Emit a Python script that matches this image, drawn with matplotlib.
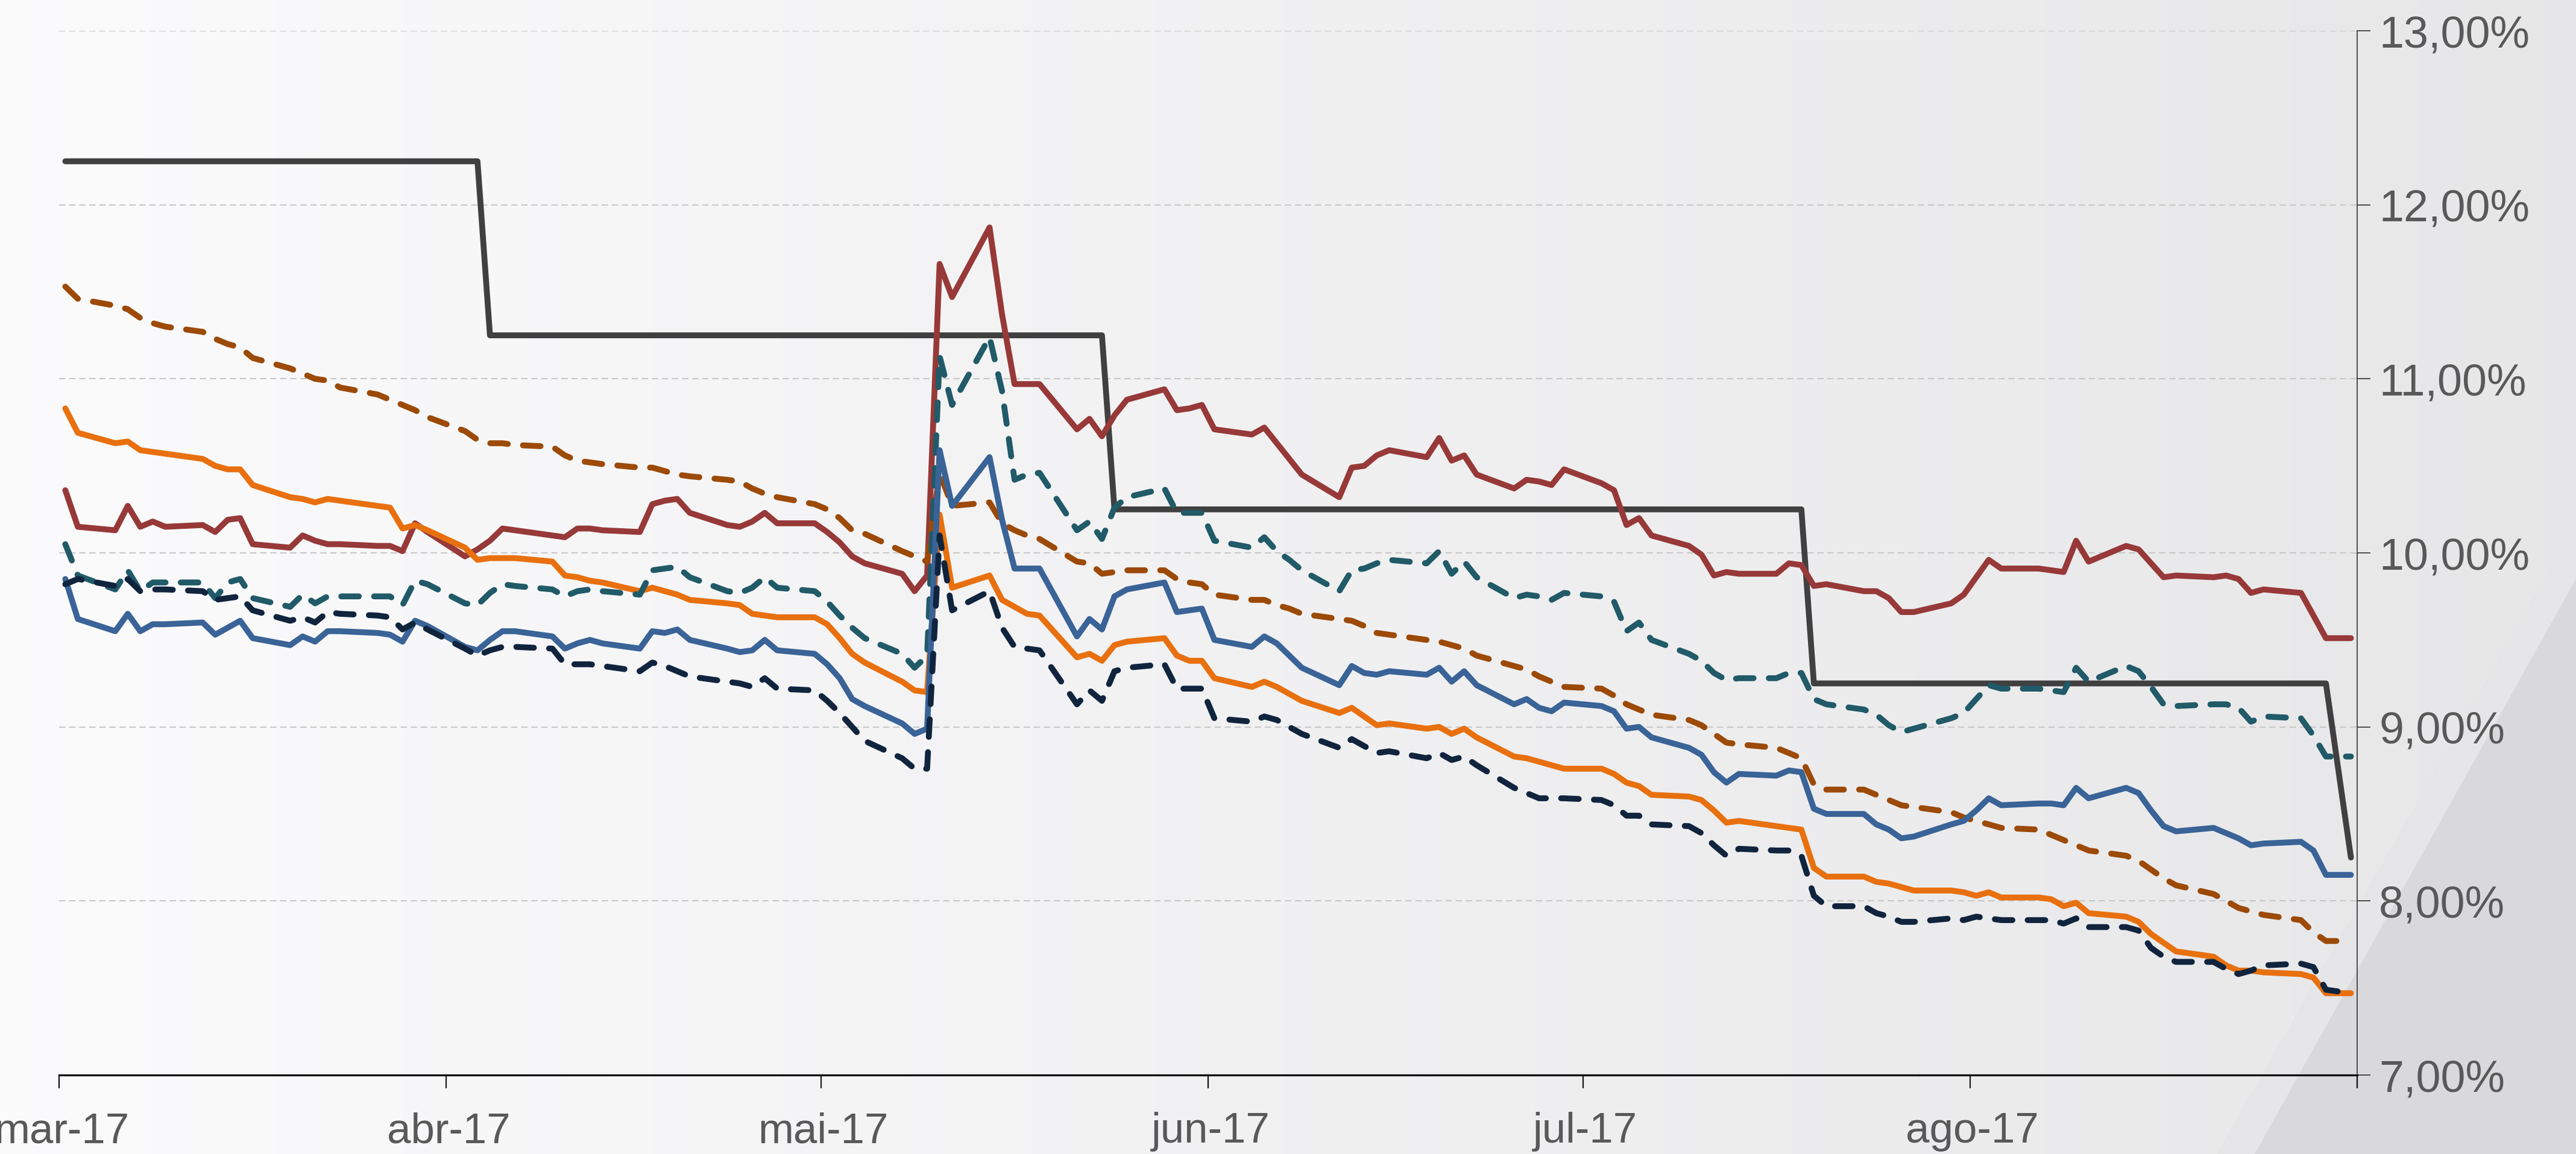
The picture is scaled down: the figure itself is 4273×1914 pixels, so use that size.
import numpy as np
import pandas as pd
import matplotlib
matplotlib.use("Agg")
import matplotlib.pyplot as plt
import matplotlib.transforms as mtrans
from matplotlib.patches import Polygon
from matplotlib.ticker import FixedLocator, FuncFormatter

plt.rcParams['font.family'] = ['Liberation Sans', 'DejaVu Sans']

# business days, 2 Mar 2017 .. 1 Sep 2017
dates = pd.bdate_range('2017-03-02', '2017-09-01')

# step series (dark grey)
selic = [
    12.25, 12.25, 12.25, 12.25, 12.25, 12.25, 12.25, 12.25, 12.25, 12.25, 12.25,
    12.25, 12.25, 12.25, 12.25, 12.25, 12.25, 12.25, 12.25, 12.25, 12.25, 12.25,
    12.25, 12.25, 11.25, 11.25, 11.25, 11.25, 11.25, 11.25, 11.25, 11.25,
    11.25, 11.25, 11.25, 11.25, 11.25, 11.25, 11.25, 11.25, 11.25, 11.25,
    11.25, 11.25, 11.25, 11.25, 11.25, 11.25, 11.25, 11.25, 11.25, 11.25,
    11.25, 11.25, 11.25, 11.25, 11.25, 11.25, 11.25, 11.25, 10.25, 10.25, 10.25, 10.25, 10.25,
    10.25, 10.25, 10.25, 10.25, 10.25, 10.25, 10.25, 10.25, 10.25, 10.25, 10.25,
    10.25, 10.25, 10.25, 10.25, 10.25, 10.25, 10.25, 10.25, 10.25, 10.25, 10.25,
    10.25, 10.25, 10.25, 10.25, 10.25, 10.25, 10.25, 10.25, 10.25, 10.25, 10.25,
    10.25, 10.25, 9.25, 9.25, 9.25, 9.25, 9.25, 9.25, 9.25, 9.25,
    9.25, 9.25, 9.25, 9.25, 9.25, 9.25, 9.25, 9.25, 9.25, 9.25, 9.25,
    9.25, 9.25, 9.25, 9.25, 9.25, 9.25, 9.25, 9.25, 9.25, 9.25, 9.25, 8.75,
    8.25,
]

red = [
    10.36, 10.15, 10.13, 10.27, 10.15, 10.18, 10.15, 10.16, 10.12, 10.19, 10.20,
    10.05, 10.03, 10.10, 10.07, 10.05, 10.05, 10.04, 10.04, 10.01, 10.17, 10.12,
    9.98, 10.02, 10.07, 10.14, 10.13, 10.10, 10.09, 10.14, 10.14, 10.13,
    10.12, 10.28, 10.30, 10.31, 10.23, 10.16, 10.15, 10.18, 10.23, 10.17,
    10.17, 10.12, 10.06, 9.98, 9.94, 9.88, 9.78, 9.87, 11.66, 11.47, 11.87, 11.37,
    10.97, 10.97, 10.97, 10.71, 10.77, 10.67, 10.79, 10.88, 10.94, 10.82, 10.83,
    10.85, 10.71, 10.68, 10.72, 10.63, 10.54, 10.45, 10.32, 10.49, 10.50, 10.56,
    10.59, 10.55, 10.66, 10.53, 10.56, 10.45, 10.37, 10.42, 10.41, 10.39, 10.48,
    10.40, 10.36, 10.16, 10.20, 10.10, 10.04, 9.99, 9.87, 9.89, 9.88, 9.88,
    9.94, 9.93, 9.81, 9.82, 9.78, 9.78, 9.74, 9.66, 9.66, 9.71,
    9.76, 9.86, 9.96, 9.91, 9.91, 9.90, 9.89, 10.07, 9.95, 10.04, 10.02, 9.94,
    9.86, 9.87, 9.86, 9.87, 9.85, 9.77, 9.79, 9.77, 9.64, 9.51, 9.51,
    9.51,
]

brown = [
    11.53, 11.46, 11.42, 11.40, 11.35, 11.32, 11.30, 11.27, 11.23, 11.20, 11.18,
    11.12, 11.06, 11.03, 11.00, 10.99, 10.95, 10.91, 10.88, 10.85, 10.82, 10.78,
    10.70, 10.65, 10.63, 10.63, 10.62, 10.61, 10.56, 10.53, 10.52, 10.51,
    10.49, 10.49, 10.47, 10.45, 10.44, 10.42, 10.41, 10.37, 10.34, 10.32,
    10.28, 10.25, 10.20, 10.13, 10.11, 10.01, 9.98, 9.95, 10.46, 10.27, 10.29, 10.17,
    10.13, 10.10, 10.08, 9.95, 9.94, 9.88, 9.89, 9.90, 9.90, 9.85, 9.83,
    9.82, 9.76, 9.73, 9.73, 9.70, 9.68, 9.65, 9.62, 9.61, 9.58, 9.54,
    9.53, 9.50, 9.49, 9.47, 9.45, 9.41, 9.35, 9.33, 9.29, 9.26, 9.23,
    9.22, 9.18, 9.13, 9.10, 9.07, 9.04, 9.01, 8.96, 8.91, 8.90, 8.88,
    8.85, 8.82, 8.67, 8.64, 8.64, 8.61, 8.58, 8.55, 8.54, 8.51,
    8.48, 8.46, 8.44, 8.42, 8.41, 8.38, 8.35, 8.32, 8.29, 8.26, 8.23, 8.18,
    8.13, 8.09, 8.04, 8.00, 7.96, 7.94, 7.92, 7.89, 7.82, 7.77, 7.77,
    np.nan,
]

orange = [
    10.83, 10.69, 10.63, 10.64, 10.59, 10.58, 10.57, 10.54, 10.50, 10.48, 10.48,
    10.39, 10.32, 10.31, 10.29, 10.31, 10.30, 10.27, 10.26, 10.14, 10.16, 10.13,
    10.03, 9.96, 9.97, 9.97, 9.97, 9.95, 9.87, 9.86, 9.84, 9.83,
    9.78, 9.80, 9.78, 9.76, 9.73, 9.71, 9.70, 9.65, 9.64, 9.63,
    9.63, 9.59, 9.51, 9.42, 9.37, 9.26, 9.21, 9.20, 10.22, 9.80, 9.87, 9.73,
    9.69, 9.65, 9.64, 9.40, 9.42, 9.38, 9.47, 9.49, 9.51, 9.41, 9.38,
    9.38, 9.28, 9.23, 9.26, 9.23, 9.19, 9.15, 9.08, 9.11, 9.06, 9.01,
    9.02, 8.99, 9.00, 8.96, 8.99, 8.94, 8.83, 8.82, 8.80, 8.78, 8.76,
    8.76, 8.73, 8.68, 8.66, 8.61, 8.60, 8.58, 8.52, 8.45, 8.46, 8.43,
    8.42, 8.41, 8.19, 8.14, 8.14, 8.11, 8.10, 8.08, 8.06, 8.06,
    8.05, 8.03, 8.05, 8.02, 8.02, 8.01, 7.97, 7.99, 7.93, 7.91, 7.88, 7.81,
    7.76, 7.71, 7.68, 7.63, 7.60, 7.60, 7.59, 7.58, 7.56, 7.47, 7.47,
    7.47,
]

teal = [
    10.05, 9.87, 9.79, 9.90, 9.78, 9.83, 9.83, 9.83, 9.74, 9.83, 9.85,
    9.74, 9.69, 9.76, 9.71, 9.75, 9.75, 9.75, 9.75, 9.70, 9.84, 9.82,
    9.71, 9.70, 9.77, 9.82, 9.81, 9.79, 9.75, 9.78, 9.79, 9.78,
    9.76, 9.90, 9.91, 9.92, 9.86, 9.78, 9.77, 9.80, 9.86, 9.80,
    9.78, 9.72, 9.64, 9.57, 9.51, 9.42, 9.34, 9.41, 11.13, 10.85, 11.24, 10.93,
    10.42, 10.45, 10.46, 10.13, 10.18, 10.08, 10.26, 10.32, 10.37, 10.23, 10.23,
    10.23, 10.07, 10.03, 10.09, 10.01, 9.96, 9.90, 9.78, 9.90, 9.91, 9.94,
    9.96, 9.94, 10.01, 9.88, 9.95, 9.86, 9.74, 9.76, 9.75, 9.73, 9.77,
    9.75, 9.72, 9.55, 9.60, 9.50, 9.42, 9.38, 9.31, 9.27, 9.28, 9.28,
    9.31, 9.31, 9.16, 9.13, 9.10, 9.07, 9.01, 8.97, 8.99, 9.05,
    9.08, 9.16, 9.24, 9.22, 9.22, 9.21, 9.20, 9.34, 9.26, 9.35, 9.32, 9.23,
    9.13, 9.12, 9.13, 9.13, 9.11, 9.03, 9.06, 9.05, 8.95, 8.83, 8.83,
    8.83,
]

blue = [
    9.85, 9.62, 9.55, 9.65, 9.55, 9.59, 9.59, 9.60, 9.53, 9.57, 9.61,
    9.51, 9.47, 9.52, 9.49, 9.55, 9.55, 9.54, 9.53, 9.49, 9.61, 9.58,
    9.46, 9.44, 9.50, 9.55, 9.55, 9.52, 9.45, 9.48, 9.50, 9.48,
    9.45, 9.55, 9.54, 9.56, 9.50, 9.45, 9.43, 9.44, 9.50, 9.44,
    9.42, 9.36, 9.28, 9.16, 9.12, 9.02, 8.96, 8.99, 10.59, 10.27, 10.55, 10.19,
    9.91, 9.91, 9.91, 9.52, 9.62, 9.56, 9.75, 9.79, 9.83, 9.66, 9.67,
    9.68, 9.50, 9.46, 9.52, 9.48, 9.41, 9.34, 9.24, 9.35, 9.31, 9.30,
    9.32, 9.30, 9.34, 9.26, 9.32, 9.24, 9.13, 9.16, 9.11, 9.09, 9.14,
    9.12, 9.09, 8.99, 9.00, 8.94, 8.88, 8.84, 8.74, 8.68, 8.73, 8.72,
    8.75, 8.74, 8.53, 8.50, 8.50, 8.44, 8.41, 8.36, 8.37, 8.44,
    8.46, 8.52, 8.59, 8.55, 8.56, 8.56, 8.55, 8.65, 8.59, 8.65, 8.62, 8.52,
    8.43, 8.40, 8.42, 8.39, 8.36, 8.32, 8.33, 8.34, 8.29, 8.15, 8.15,
    8.15,
]

navy = [
    9.82, 9.85, 9.81, 9.85, 9.78, 9.79, 9.79, 9.78, 9.73, 9.74, 9.75,
    9.67, 9.61, 9.63, 9.60, 9.66, 9.65, 9.64, 9.63, 9.56, 9.60, 9.56,
    9.45, 9.41, 9.44, 9.46, 9.46, 9.45, 9.36, 9.36, 9.36, 9.35,
    9.32, 9.37, 9.35, 9.32, 9.29, 9.26, 9.25, 9.23, 9.28, 9.22,
    9.21, 9.15, 9.08, 9.00, 8.92, 8.82, 8.76, 8.76, 10.10, 9.67, 9.78, 9.57,
    9.46, 9.45, 9.44, 9.13, 9.21, 9.15, 9.32, 9.34, 9.36, 9.22, 9.22,
    9.22, 9.05, 9.03, 9.06, 9.04, 9.00, 8.96, 8.88, 8.93, 8.89, 8.85,
    8.86, 8.82, 8.85, 8.81, 8.83, 8.78, 8.65, 8.62, 8.59, 8.59, 8.59,
    8.58, 8.55, 8.49, 8.49, 8.44, 8.43, 8.39, 8.32, 8.26, 8.30, 8.29,
    8.29, 8.26, 8.03, 7.97, 7.97, 7.93, 7.91, 7.88, 7.88, 7.90,
    7.89, 7.91, 7.90, 7.89, 7.89, 7.89, 7.87, 7.90, 7.85, 7.85, 7.83, 7.73,
    7.68, 7.65, 7.65, 7.61, 7.58, 7.60, 7.63, 7.64, 7.62, 7.49, 7.48,
    7.48,
]

month_ticks = pd.date_range('2017-03-01', '2017-09-01', freq='MS')
month_labels = ['mar-17', 'abr-17', 'mai-17', 'jun-17', 'jul-17', 'ago-17', '']
y_ticks = [7, 8, 9, 10, 11, 12, 13]

W, H = 4273, 1914
fig = plt.figure(figsize=(W / 100, H / 100), dpi=100)

# background: soft grey gradient + folded corner bottom right
bg = fig.add_axes([0, 0, 1, 1], zorder=0)
bg.set_axis_off()
bg.set_xlim(0, W)
bg.set_ylim(H, 0)
g = np.linspace(0.985, 0.905, 512)[None, :]
bg.imshow(np.dstack([g, g, g + 0.005]), extent=[0, W, H, 0], aspect='auto')
bg.add_patch(Polygon([(3678, H), (W, 871), (W, H)], closed=True,
                     facecolor='#d9d9db', edgecolor='none'))
bg.add_patch(Polygon([(3678, H), (W, 871), (W, 960), (3740, H)], closed=True,
                     facecolor='#e6e6e8', edgecolor='none'))

ax = fig.add_axes([98 / W, (H - 1783) / H, (3910 - 98) / W, (1783 - 51) / H], zorder=1)
ax.patch.set_alpha(0)

x = dates - pd.Timedelta(hours=12)
lw = 7
dash = (0, (3.0, 2.6))
series = [
    (selic, '#404040', '-'),
    (red, '#973938', '-'),
    (brown, '#9c4a06', dash),
    (orange, '#e8700e', '-'),
    (teal, '#215a68', dash),
    (blue, '#3a6397', '-'),
    (navy, '#10243e', dash),
]
for vals, col, ls in series:
    ax.plot(x, vals, color=col, lw=lw, linestyle=ls,
            solid_joinstyle='round', solid_capstyle='round',
            dash_capstyle='round', dash_joinstyle='round')

ax.set_xlim(month_ticks[0], month_ticks[-1])
ax.set_ylim(7, 13)

ax.xaxis.set_major_locator(FixedLocator([matplotlib.dates.date2num(d) for d in month_ticks]))
ax.set_xticklabels(month_labels)
ax.yaxis.tick_right()
ax.yaxis.set_major_locator(FixedLocator(y_ticks))
ax.yaxis.set_major_formatter(FuncFormatter(lambda v, p: f"{v:.2f}".replace('.', ',') + '%'))

ax.grid(axis='y', color='#c8c8c8', linestyle=(0, (5, 3)), linewidth=1.5)
ax.set_axisbelow(True)

for s in ['left', 'top']:
    ax.spines[s].set_visible(False)
ax.spines['right'].set_color('#404040')
ax.spines['right'].set_linewidth(1.3)
ax.spines['bottom'].set_color('#111111')
ax.spines['bottom'].set_linewidth(2.4)

ax.tick_params(axis='y', direction='out', length=16, width=1.3, color='#404040',
               pad=10, labelsize=53, labelcolor='#595959')
ax.tick_params(axis='x', direction='out', length=16, width=1.6, color='#111111',
               pad=28, labelsize=51, labelcolor='#595959')

shift = mtrans.ScaledTranslation(0.04, 0, fig.dpi_scale_trans)
for lab in ax.get_xticklabels():
    lab.set_transform(lab.get_transform() + shift)

fig.savefig('out.png', dpi=100)
